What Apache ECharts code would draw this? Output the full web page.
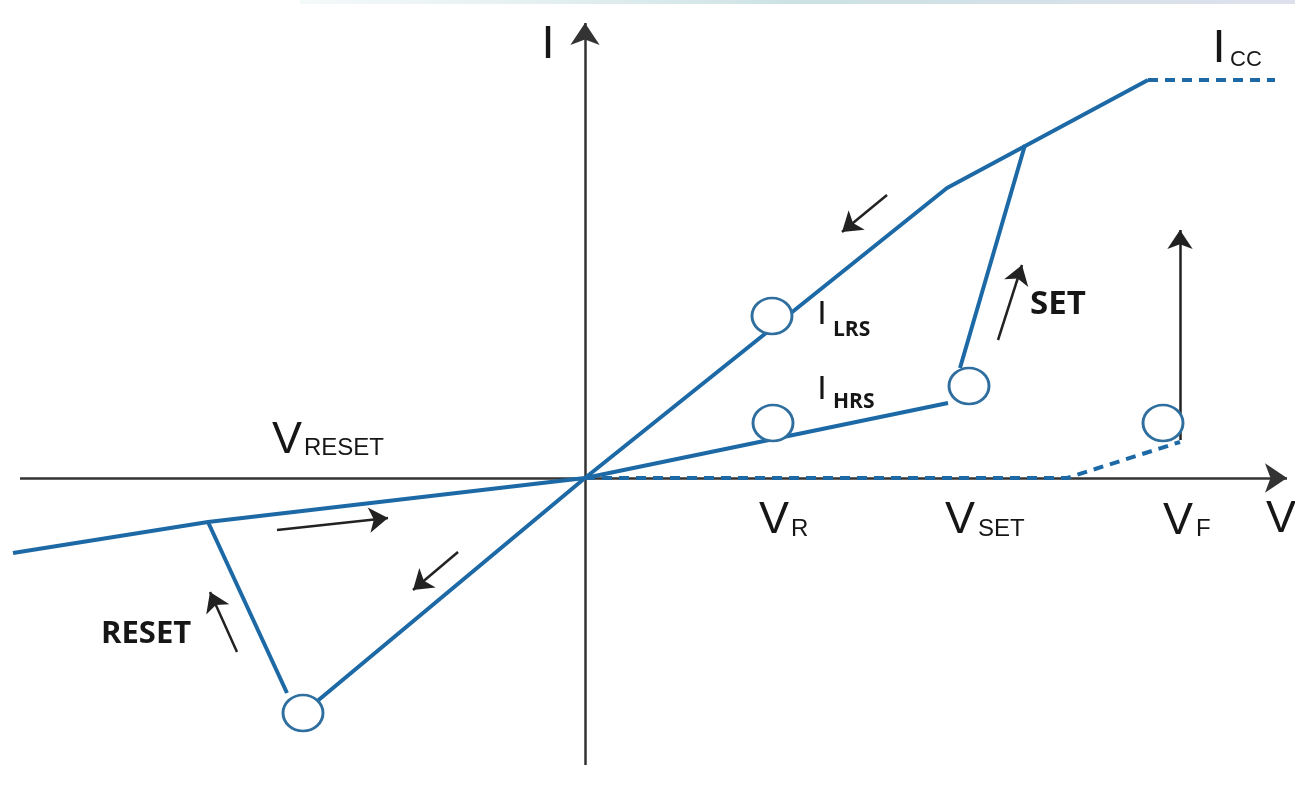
<!DOCTYPE html>
<html>
<head>
<meta charset="utf-8">
<script src="https://cdn.jsdelivr.net/npm/echarts@6/dist/echarts.min.js"></script>
<style>
html,body{margin:0;padding:0;background:#fff;}
#chart{width:1295px;height:796px;}
</style>
</head>
<body>
<div id="chart"></div>
<script>
// I-V 曲线示意（单位任意）
var lrsLine = [[-2.82, -2.35], [0, 0], [3.62, 2.90], [5.63, 3.98]];
var iccDash = [[5.63, 3.98], [6.90, 3.98]];
var hrsLine = [[0, 0], [3.63, 0.75]];
var setLine = [[3.75, 1.10], [4.40, 3.33]];
var negLine = [[-5.72, -0.75], [-3.77, -0.44], [0, 0]];
var resetLine = [[-3.77, -0.44], [-2.98, -2.15]];
var offDash = [[0, 0], [4.82, 0], [5.95, 0.36]];
var circles = [[1.87, 1.62], [1.88, 0.55], [3.84, 0.92], [5.78, 0.55], [-2.82, -2.35]];

// 坐标轴
var axisX = [[-5.65, 0], [7.02, 0]];
var axisY = [[0, -2.87], [0, 4.55]];

// 方向箭头
var arrows = [
	[[3.02, 2.83], [2.57, 2.46]],
	[[4.13, 1.38], [4.37, 2.13]],
	[[5.95, 0.38], [5.95, 2.48]],
	[[-3.08, -0.52], [-1.97, -0.40]],
	[[-1.27, -0.74], [-1.72, -1.12]],
	[[-3.48, -1.74], [-3.75, -1.14]]
];

// 文字标注
var labelText = ['I', 'I', 'CC', 'V', 'RESET', 'V', 'R', 'V', 'SET', 'V', 'F', 'V', 'I', 'LRS', 'I', 'HRS', 'SET', 'RESET'];
var labelPos = [[-0.37, 4.33], [6.34, 4.285], [6.45, 4.185], [-3.13, 0.37], [-2.81, 0.295], [1.74, -0.43], [2.06, -0.51],
	[3.60, -0.43], [3.93, -0.51], [5.78, -0.44], [6.11, -0.51], [6.81, -0.42], [2.37, 1.63], [2.48, 1.475], [2.37, 0.88], [2.48, 0.755],
	[4.45, 1.73], [-4.84, -1.56]];

var blue = '#1c69a6';
var lineStyle = {color: blue, width: 4};
var dashStyle = {color: blue, width: 4, type: [10, 7]};

function lineSeries(data, style) {
	return {
		type: 'line',
		data: data,
		showSymbol: false,
		symbol: 'none',
		lineStyle: style,
		z: 3,
		silent: true
	};
}

var option = {
	animation: false,
	grid: {left: 0, right: 0, top: 0, bottom: 0},
	xAxis: {type: 'value', min: -5.85, max: 7.10, show: false},
	yAxis: {type: 'value', min: -3.18, max: 4.78, show: false},
	series: [
		{
			type: 'lines',
			coordinateSystem: 'cartesian2d',
			data: [{coords: axisX}, {coords: axisY}],
			symbol: ['none', 'arrow'],
			symbolSize: [18, 22],
			lineStyle: {color: '#333', width: 2.5, opacity: 1},
			z: 2
		},
		lineSeries(lrsLine, lineStyle),
		lineSeries(iccDash, dashStyle),
		lineSeries(hrsLine, lineStyle),
		lineSeries(setLine, lineStyle),
		lineSeries(negLine, lineStyle),
		lineSeries(resetLine, lineStyle),
		lineSeries(offDash, dashStyle),
		{
			type: 'lines',
			coordinateSystem: 'cartesian2d',
			data: arrows.map(function (a) { return {coords: a}; }),
			symbol: ['none', 'arrow'],
			symbolSize: [15, 19],
			lineStyle: {color: '#222', width: 2.5, opacity: 1},
			z: 4
		},
		{
			type: 'scatter',
			data: circles,
			symbol: 'circle',
			symbolSize: [40, 36],
			itemStyle: {color: '#fff', borderColor: '#2f6f9f', borderWidth: 2.8, opacity: 1},
			z: 5,
			silent: true
		}
	]
};

var myChart = echarts.init(document.getElementById('chart'));
myChart.setOption(option);

// 文字按数据坐标换算成像素放置
var bigFont = 'Liberation Sans, Arial, sans-serif';
var boldFont = 'Open Sans, Noto Sans, sans-serif';
var labelStyle = [
	{s: 47, a: 'center'}, {s: 47, a: 'center'}, {s: 22, a: 'left'},
	{s: 45, a: 'left'}, {s: 24, a: 'left'},
	{s: 45, a: 'left'}, {s: 24, a: 'left'},
	{s: 45, a: 'left'}, {s: 24, a: 'left'},
	{s: 45, a: 'left'}, {s: 24, a: 'left'},
	{s: 45, a: 'left'},
	{s: 34, a: 'center'}, {s: 21, a: 'left', b: true},
	{s: 34, a: 'center'}, {s: 21, a: 'left', b: true},
	{s: 33, a: 'left', b: true}, {s: 31, a: 'left', b: true}
];
var graphics = [{
	type: 'rect',
	shape: {x: 300, y: 0, width: 995, height: 4},
	style: {
		fill: new echarts.graphic.LinearGradient(0, 0, 1, 0, [
			{offset: 0, color: 'rgba(200,225,225,0.2)'},
			{offset: 0.5, color: 'rgba(170,205,210,0.6)'},
			{offset: 1, color: 'rgba(200,205,225,0.6)'}
		])
	},
	silent: true
}];
labelText.forEach(function (t, i) {
	var p = myChart.convertToPixel({gridIndex: 0}, labelPos[i]);
	var st = labelStyle[i];
	graphics.push({
		type: 'text',
		x: p[0],
		y: p[1],
		z: 10,
		style: {
			text: t,
			fill: '#161616',
			font: (st.b ? 'bold ' : '') + st.s + 'px ' + (st.b ? boldFont : bigFont),
			textAlign: st.a,
			textVerticalAlign: 'middle',
			verticalAlign: 'middle'
		},
		silent: true
	});
});
myChart.setOption({graphic: graphics});
</script>
</body>
</html>
